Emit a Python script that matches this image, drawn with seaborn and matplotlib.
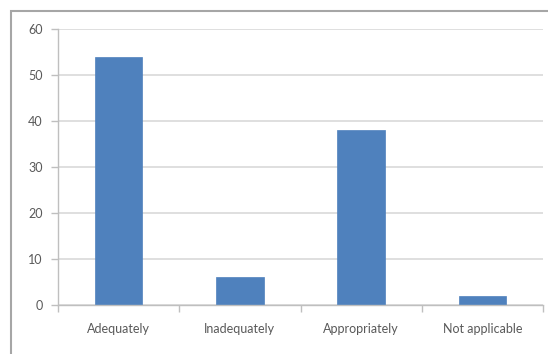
import matplotlib
matplotlib.use("Agg")
import matplotlib.pyplot as plt
import seaborn as sns
import pandas as pd
from matplotlib.patches import Rectangle

categories = ["Adequately", "Inadequately", "Appropriately", "Not applicable"]
values = [54, 6, 38, 2]
y_ticks = [0, 10, 20, 30, 40, 50, 60]

sns.set_style("white")
plt.rcParams['font.family'] = ['Lato', 'DejaVu Sans']

df = pd.DataFrame({"category": categories, "value": values})

fig = plt.figure(figsize=(5.48, 3.54), dpi=100)
ax = fig.add_axes([58/548, 1-305/354, (543-58)/548, (305-29)/354])

sns.barplot(data=df, x="category", y="value", color="#4F81BD", saturation=1,
            width=0.39, ax=ax, edgecolor="#4F81BD", linewidth=0.5)

ax.set_ylim(0, 60)
ax.set_xlim(-0.5, 3.5)
ax.set_yticks(y_ticks)
ax.set_yticklabels([str(t) for t in y_ticks])
ax.yaxis.grid(True, color="#D9D9D9", linewidth=1.2)
ax.set_axisbelow(True)
ax.set_xlabel("")
ax.set_ylabel("")

for s in ["top", "right"]:
    ax.spines[s].set_visible(False)
for s in ["left", "bottom"]:
    ax.spines[s].set_color("#BFBFBF")
    ax.spines[s].set_linewidth(1.0)

ax.tick_params(axis="y", which="major", length=5, width=1, color="#BFBFBF",
               labelsize=9, labelcolor="#595959", pad=6, direction="out", left=True)
ax.set_xticks([0, 1, 2, 3])
ax.set_xticklabels(categories)
ax.set_xticks([-0.5, 0.5, 1.5, 2.5, 3.5], minor=True)
ax.tick_params(axis="x", which="major", length=0, labelsize=9, labelcolor="#595959", pad=13)
ax.tick_params(axis="x", which="minor", length=5, width=1, color="#BFBFBF", direction="out", bottom=True)

# outer chart frame
fig.patches.append(Rectangle((11/548, -0.1), 1.2, 1 - 10.5/354 + 0.1,
                             transform=fig.transFigure, fill=False,
                             edgecolor="#A6A6A6", linewidth=1.5, clip_on=False))

fig.savefig("out.png", dpi=100, facecolor="white")
